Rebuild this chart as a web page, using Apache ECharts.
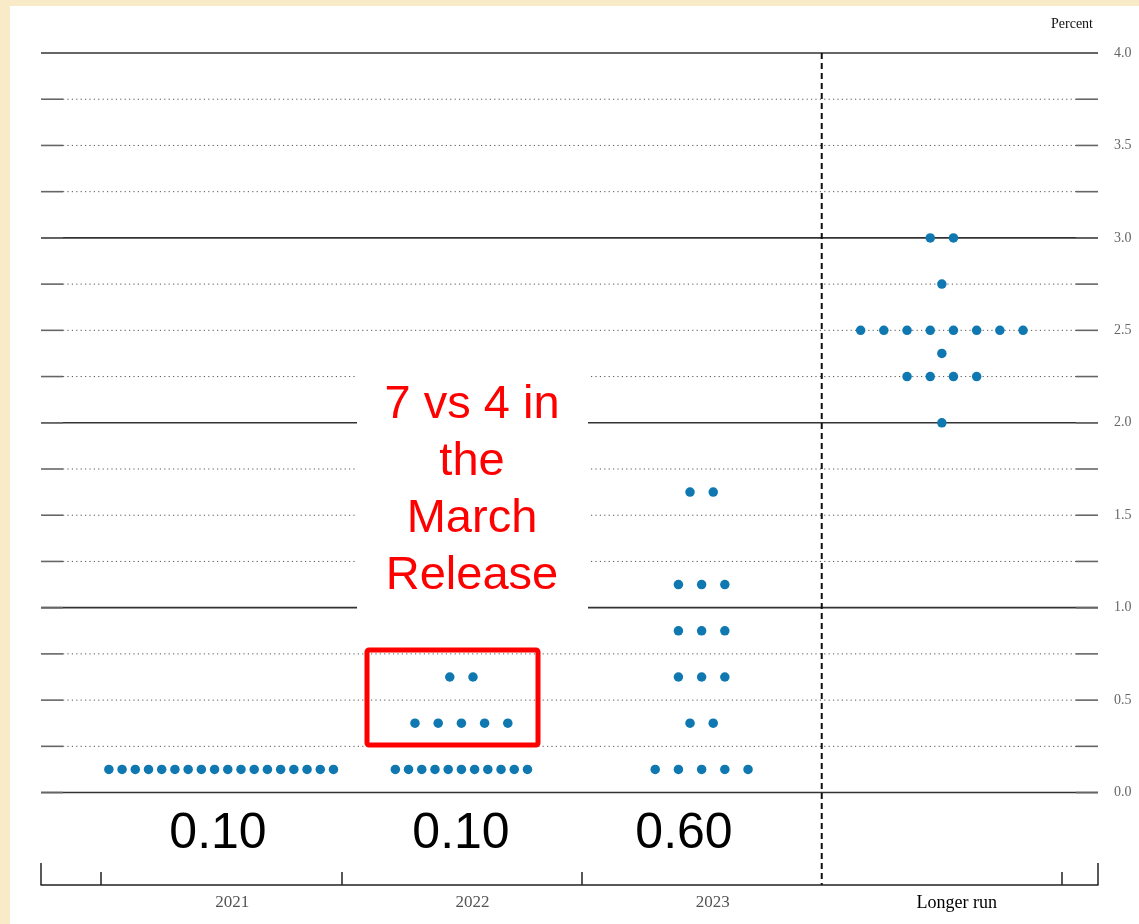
<!DOCTYPE html>
<html>
<head>
<meta charset="utf-8">
<script src="https://cdn.jsdelivr.net/npm/echarts@6/dist/echarts.min.js"></script>
<style>
  html, body { margin: 0; padding: 0; width: 1139px; height: 924px; background: #faebc8; overflow: hidden; }
  #chart { position: absolute; left: 10px; top: 6px; width: 1129px; height: 918px; background: #ffffff; }
</style>
</head>
<body>
<div id="chart"></div>
<script>
// ---------- data ----------
const categories = ['2021', '2022', '2023', 'Longer run'];

const rates2021 = [0.125];
const counts2021 = [18];

const rates2022 = [0.125, 0.375, 0.625];
const counts2022 = [11, 5, 2];

const rates2023 = [0.125, 0.375, 0.625, 0.875, 1.125, 1.625];
const counts2023 = [5, 2, 3, 3, 3, 2];

const ratesLonger = [2.0, 2.25, 2.375, 2.5, 2.75, 3.0];
const countsLonger = [1, 4, 1, 8, 1, 2];

const medianLabels = ['0.10', '0.10', '0.60'];

const yTickValues = [0, 0.25, 0.5, 0.75, 1.0, 1.25, 1.5, 1.75, 2.0, 2.25, 2.5, 2.75, 3.0, 3.25, 3.5, 3.75, 4.0];

const annotationText = '7 vs 4 in\nthe\nMarch\nRelease';

// ---------- build dot positions ----------
const groups = [
  [rates2021, counts2021],
  [rates2022, counts2022],
  [rates2023, counts2023],
  [ratesLonger, countsLonger]
];
const dotData = [];
groups.forEach(function (g, ci) {
  const rates = g[0], counts = g[1];
  rates.forEach(function (r, k) {
    const n = counts[k];
    const step = n > 8 ? 0.055 : 0.0966;
    for (let j = 0; j < n; j++) {
      dotData.push([ci + (j - (n - 1) / 2) * step, r]);
    }
  });
});

const X_MIN = -0.75, X_MAX = 3.65, Y_MIN = -0.5, Y_MAX = 4.0;
const DIVIDER = 2.5;

const chart = echarts.init(document.getElementById('chart'), null, { renderer: 'canvas' });

const option = {
  animation: false,
  backgroundColor: '#ffffff',
  grid: { left: 31, right: 41, top: 47, bottom: 39 },
  xAxis: {
    type: 'value',
    min: X_MIN,
    max: X_MAX,
    splitLine: { show: false },
    axisLine: { show: true, onZero: false, lineStyle: { color: '#222', width: 1.5 } },
    axisTick: {
      show: true,
      inside: true,
      length: 13,
      customValues: [-0.5, 0.5, 1.5, 3.5],
      lineStyle: { color: '#222', width: 1.5 }
    },
    axisLabel: {
      show: true,
      customValues: [0, 1, 2, 3],
      margin: 9,
      padding: [0, 0, 0, 22],
      formatter: function (v) {
        const i = Math.round(v);
        const name = categories[i];
        return i === 3 ? '{k|' + name + '}' : '{g|' + name + '}';
      },
      rich: {
        g: { color: '#555', fontSize: 17, fontFamily: 'Liberation Serif' },
        k: { color: '#000', fontSize: 18, fontFamily: 'Liberation Serif', padding: [0, 0, 0, 8] }
      }
    }
  },
  yAxis: {
    type: 'value',
    position: 'right',
    min: Y_MIN,
    max: Y_MAX,
    interval: 0.25,
    splitLine: { show: false },
    axisLine: { show: false },
    axisTick: { show: false },
    axisLabel: {
      show: true,
      interval: 0,
      margin: 16,
      color: '#666',
      fontSize: 14,
      fontFamily: 'Liberation Serif',
      formatter: function (v) {
        if (v >= 0 && Math.abs(v * 2 - Math.round(v * 2)) < 1e-9) return v.toFixed(1);
        return '';
      }
    }
  },
  graphic: [
    // white panel behind annotation text
    { type: 'rect', z: 100, shape: { x: 347, y: 356, width: 231, height: 259 }, style: { fill: '#ffffff' } },
    { type: 'text', z: 101, x: 462, y: 485,
      style: { text: annotationText, fill: '#ff0000', font: '47px "Liberation Sans"', lineHeight: 57,
               textAlign: 'center', textVerticalAlign: 'middle' } },
    // red highlight box
    { type: 'rect', z: 101, shape: { x: 357, y: 644, width: 171, height: 95, r: 2 },
      style: { fill: 'none', stroke: '#ff0000', lineWidth: 5 } },
    // median annotations
    { type: 'text', z: 101, x: 208, y: 828,
      style: { text: medianLabels[0], fill: '#000', font: '50px "Liberation Sans"', textAlign: 'center', textVerticalAlign: 'middle' } },
    { type: 'text', z: 101, x: 451, y: 828,
      style: { text: medianLabels[1], fill: '#000', font: '50px "Liberation Sans"', textAlign: 'center', textVerticalAlign: 'middle' } },
    { type: 'text', z: 101, x: 674, y: 828,
      style: { text: medianLabels[2], fill: '#000', font: '50px "Liberation Sans"', textAlign: 'center', textVerticalAlign: 'middle' } },
    // unit label
    { type: 'text', z: 101, x: 1083, y: 18,
      style: { text: 'Percent', fill: '#111', font: '14px "Liberation Serif"', textAlign: 'right', textVerticalAlign: 'middle' } }
  ],
  series: [
    {
      type: 'custom',
      name: 'gridlines',
      z: 1,
      silent: true,
      clip: false,
      encode: { x: 0, y: 1 },
      data: yTickValues.map(function (v) { return [X_MIN, v]; }),
      renderItem: function (params, api) {
        const y = api.value(1);
        const a = api.coord([X_MIN, y]);
        const b = api.coord([X_MAX, y]);
        const stub = 22;
        const isMajor = Math.abs(y - Math.round(y)) < 1e-9;
        const children = [];
        if (isMajor) {
          children.push({ type: 'line', shape: { x1: a[0], y1: a[1], x2: b[0], y2: b[1] },
                          style: { stroke: '#333', lineWidth: 1.6 } });
        } else {
          children.push({ type: 'line', shape: { x1: a[0] + stub, y1: a[1], x2: b[0] - stub, y2: b[1] },
                          style: { stroke: '#555', lineWidth: 1, lineDash: [1.2, 3.2] } });
        }
        children.push({ type: 'line', shape: { x1: a[0], y1: a[1], x2: a[0] + stub, y2: a[1] },
                        style: { stroke: '#666', lineWidth: 1.6 } });
        children.push({ type: 'line', shape: { x1: b[0] - stub, y1: b[1], x2: b[0], y2: b[1] },
                        style: { stroke: '#666', lineWidth: 1.6 } });
        return { type: 'group', children: children };
      }
    },
    {
      type: 'custom',
      name: 'frame',
      z: 3,
      silent: true,
      clip: false,
      encode: { x: 0, y: 1 },
      data: [[DIVIDER, Y_MIN]],
      renderItem: function (params, api) {
        const top = api.coord([DIVIDER, Y_MAX]);
        const bot = api.coord([DIVIDER, Y_MIN]);
        const l = api.coord([X_MIN, Y_MIN]);
        const r = api.coord([X_MAX, Y_MIN]);
        return {
          type: 'group',
          children: [
            { type: 'line', shape: { x1: top[0], y1: top[1], x2: bot[0], y2: bot[1] },
              style: { stroke: '#111', lineWidth: 2, lineDash: [6, 4] } },
            { type: 'line', shape: { x1: l[0], y1: l[1], x2: l[0], y2: l[1] - 22 },
              style: { stroke: '#222', lineWidth: 1.5 } },
            { type: 'line', shape: { x1: r[0], y1: r[1], x2: r[0], y2: r[1] - 22 },
              style: { stroke: '#222', lineWidth: 1.5 } }
          ]
        };
      }
    },
    {
      type: 'scatter',
      name: 'Participants',
      z: 5,
      symbol: 'circle',
      symbolSize: 9.5,
      itemStyle: { color: '#0f78b0', opacity: 1 },
      data: dotData
    }
  ]
};

chart.setOption(option);
</script>
</body>
</html>
